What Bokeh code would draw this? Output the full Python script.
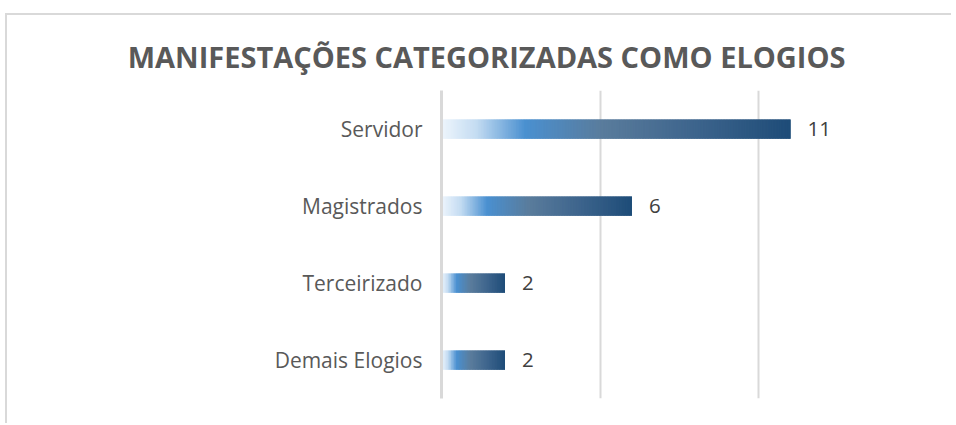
from bokeh.plotting import figure
from bokeh.models import FactorRange, Range1d, FixedTicker, ColumnDataSource
from bokeh.embed import file_html
from bokeh.resources import INLINE
from bokeh.core.properties import value

# ---- data ----
categories = ["Servidor", "Magistrados", "Terceirizado", "Demais Elogios"]
counts = [11, 6, 2, 2]
grid_ticks = [0, 5, 10, 15]
title_text = "MANIFESTAÇÕES CATEGORIZADAS COMO ELOGIOS"

# gradient stops (fraction of bar length, rgb)
grad_pos = [0.0, 0.10, 0.24, 0.46, 0.72, 1.0]
grad_rgb = [(238, 245, 252), (196, 220, 242), (74, 144, 208),
            (90, 124, 156), (62, 101, 141), (30, 76, 120)]


def grad_color(t):
    for i in range(len(grad_pos) - 1):
        a, b = grad_pos[i], grad_pos[i + 1]
        if a <= t <= b:
            f = (t - a) / (b - a)
            c = [round(grad_rgb[i][k] + f * (grad_rgb[i + 1][k] - grad_rgb[i][k])) for k in range(3)]
            return "#%02x%02x%02x" % tuple(c)
    return "#%02x%02x%02x" % grad_rgb[-1]


ys, lefts, rights, cols = [], [], [], []
for cat, v in zip(categories, counts):
    N = 20 * v
    for i in range(N):
        ys.append(cat)
        lefts.append(v * i / N)
        rights.append(min(v, v * (i + 2) / N))
        cols.append(grad_color((i + 0.5) / N))
slices = ColumnDataSource(dict(y=ys, left=lefts, right=rights, color=cols))

W, H = 946, 410
p = figure(width=W, height=H, output_backend="svg", toolbar_location=None,
           y_range=FactorRange(factors=list(reversed(categories))),
           x_range=Range1d(0, 15),
           min_border_left=434, min_border_right=36, min_border_top=75, min_border_bottom=27,
           styles={"margin-left": "5px", "margin-top": "13px",
                   "border-top": "2px solid #d9d9d9", "border-left": "2px solid #d9d9d9"})
p.outline_line_color = None
p.background_fill_color = "white"
p.border_fill_color = "white"

p.title.text = title_text
p.title.align = "right"
p.title.offset = 72
p.title.vertical_align = "bottom"
p.title.standoff = 30
p.title.text_font = "Open Sans"
p.title.text_font_style = "bold"
p.title.text_font_size = "29px"
p.title.text_color = "#595959"

p.hbar(y="y", left="left", right="right", height=0.25, fill_color="color",
       line_color=None, source=slices)

p.text(x=counts, y=categories, text=[str(c) for c in counts], x_offset=17,
       text_baseline="middle", text_align="left", text_font=value("Open Sans"),
       text_font_size="20.5px", text_color="#404040")

p.xaxis.visible = False
p.xgrid.ticker = FixedTicker(ticks=grid_ticks)
p.xgrid.grid_line_color = "#d9d9d9"
p.xgrid.grid_line_width = 2
p.ygrid.visible = False

p.yaxis.major_tick_line_color = None
p.yaxis.minor_tick_line_color = None
p.yaxis.major_tick_out = 0
p.yaxis.major_tick_in = 0
p.yaxis.axis_line_color = "#d9d9d9"
p.yaxis.axis_line_width = 3
p.yaxis.major_label_standoff = 19
p.yaxis.major_label_text_font = "Open Sans"
p.yaxis.major_label_text_font_size = "21px"
p.yaxis.major_label_text_color = "#595959"

open("out.html", "w").write(file_html(p, INLINE))
